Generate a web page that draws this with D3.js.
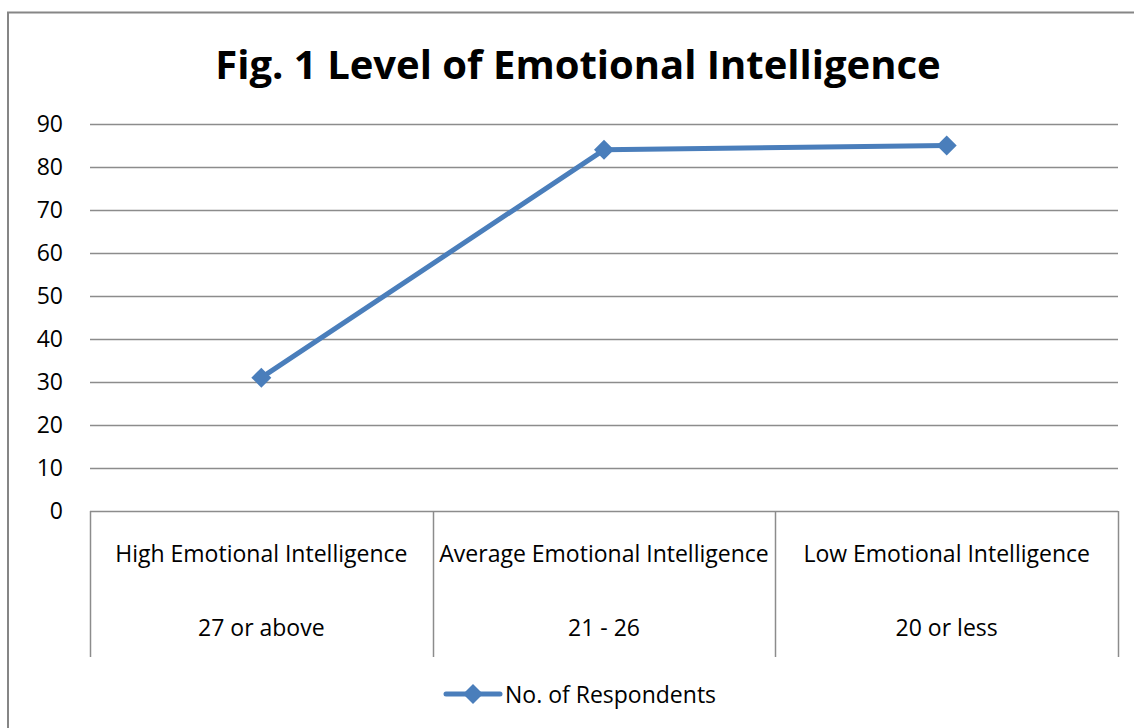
<!DOCTYPE html>
<html><head><meta charset="utf-8">
<script src="https://cdn.jsdelivr.net/npm/d3@7"></script>
<style>body{margin:0;background:#fff}svg{display:block}text{font-family:"Open Sans",sans-serif;fill:#000}</style>
</head><body><div id="chart"></div>
<script>
const title = "Fig. 1 Level of Emotional Intelligence";
const categoriesLine1 = ["High Emotional Intelligence","Average Emotional Intelligence","Low Emotional Intelligence"];
const categoriesLine2 = ["27 or above","21 - 26","20 or less"];
const seriesName = "No. of Respondents";
const values = [31, 84, 85];
const yTicks = [0,10,20,30,40,50,60,70,80,90];

(function(){
const W = 1134, H = 728;
const fs = "23px";
const svg = d3.select("#chart").append("svg").attr("width", W).attr("height", H);
svg.append("rect").attr("x",8).attr("y",12.5).attr("width",1140).attr("height",740)
  .attr("fill","#fff").attr("stroke","#868686").attr("stroke-width",2);

const pl = 90, pr = 1118, pt = 124, pb = 511;
const x = d3.scaleBand().domain(d3.range(categoriesLine1.length)).range([pl,pr]).padding(0);
const y = d3.scaleLinear().domain([0,90]).range([pb,pt]);

svg.append("text").attr("x",578).attr("y",79).attr("text-anchor","middle")
  .style("font-size","40px").style("font-weight","bold").text(title);

svg.append("g").selectAll("line").data(yTicks).join("line")
  .attr("x1",pl).attr("x2",pr).attr("y1",d=>Math.round(y(d))+0.5).attr("y2",d=>Math.round(y(d))+0.5)
  .attr("stroke","#8c8c8c").attr("stroke-width",1.5);

const yAxis = svg.append("g").attr("transform",`translate(${pl},0)`)
  .call(d3.axisLeft(y).tickValues(yTicks).tickSize(0).tickPadding(27));
yAxis.select(".domain").remove();
yAxis.selectAll("text").style("font-size",fs).style("font-family","'Open Sans',sans-serif").attr("fill","#000");

const bounds = [...x.domain().map(i=>x(i)), pr];
svg.append("g").selectAll("line").data(bounds).join("line")
  .attr("x1",d=>Math.round(d)+0.5).attr("x2",d=>Math.round(d)+0.5).attr("y1",pb).attr("y2",657)
  .attr("stroke","#8c8c8c").attr("stroke-width",1.5);

const cx = i => x(i) + x.bandwidth()/2;
svg.append("g").selectAll("text").data(categoriesLine1).join("text")
  .attr("x",(d,i)=>cx(i)).attr("y",562).attr("text-anchor","middle").style("font-size",fs).text(d=>d);
svg.append("g").selectAll("text").data(categoriesLine2).join("text")
  .attr("x",(d,i)=>cx(i)).attr("y",636).attr("text-anchor","middle").style("font-size",fs).text(d=>d);

const color = "#4a7ebb";
const line = d3.line().x((d,i)=>cx(i)).y(d=>y(d));
svg.append("path").datum(values).attr("d",line).attr("fill","none").attr("stroke",color).attr("stroke-width",5).attr("stroke-linejoin","round");
const diamond = "M0,-10L10,0L0,10L-10,0Z";
svg.append("g").selectAll("path").data(values).join("path")
  .attr("transform",(d,i)=>`translate(${cx(i)},${y(d)})`).attr("d",diamond).attr("fill",color);

const lg = svg.append("g").attr("transform","translate(446,694)");
lg.append("line").attr("x1",0).attr("x2",54).attr("stroke",color).attr("stroke-width",5).attr("stroke-linecap","round");
lg.append("path").attr("transform","translate(27,0)").attr("d",diamond).attr("fill",color);
lg.append("text").attr("x",59).attr("y",9).style("font-size",fs).text(seriesName);
})();
</script></body></html>
